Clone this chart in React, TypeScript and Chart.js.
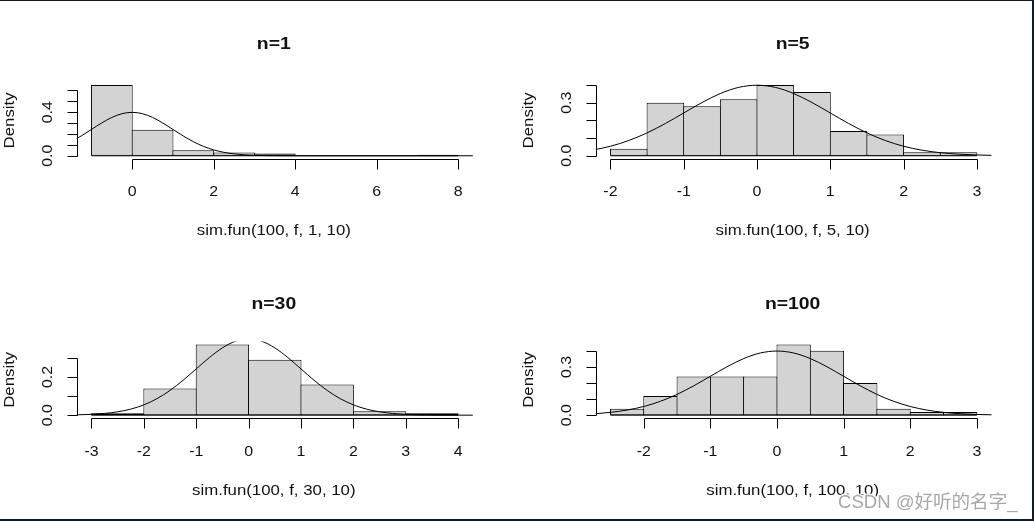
import React, { useEffect, useRef } from 'react';
import { Chart, registerables } from 'chart.js';

Chart.register(...registerables);

const W = 1034;
const H = 521;

// ---------------- data ----------------
const TITLES = ['n=1', 'n=5', 'n=30', 'n=100'];
const XLABELS = [
  'sim.fun(100, f, 1, 10)',
  'sim.fun(100, f, 5, 10)',
  'sim.fun(100, f, 30, 10)',
  'sim.fun(100, f, 100, 10)',
];

const N1_BREAKS = [-1, 0, 1, 2, 3, 4, 5, 6, 7, 8];
const N1_DENSITY = [0.65, 0.24, 0.05, 0.03, 0.02, 0, 0, 0, 0.01];
const N1_XTICKS = [0, 2, 4, 6, 8];
const N1_YTICKS = [0, 0.1, 0.2, 0.3, 0.4, 0.5, 0.6];
const N1_YLABELS = ['0.0', '', '', '', '0.4', '', ''];

const N5_BREAKS = [-2, -1.5, -1, -0.5, 0, 0.5, 1, 1.5, 2, 2.5, 3];
const N5_DENSITY = [0.04, 0.3, 0.28, 0.32, 0.4, 0.36, 0.14, 0.12, 0.02, 0.02];
const N5_XTICKS = [-2, -1, 0, 1, 2, 3];
const N5_YTICKS = [0, 0.1, 0.2, 0.3, 0.4];
const N5_YLABELS = ['0.0', '', '', '0.3', ''];

const N30_BREAKS = [-3, -2, -1, 0, 1, 2, 3, 4];
const N30_DENSITY = [0.01, 0.14, 0.37, 0.29, 0.16, 0.02, 0.01];
const N30_XTICKS = [-3, -2, -1, 0, 1, 2, 3, 4];
const N30_YTICKS = [0, 0.1, 0.2, 0.3];
const N30_YLABELS = ['0.0', '', '0.2', ''];

const N100_BREAKS = [-2.5, -2, -1.5, -1, -0.5, 0, 0.5, 1, 1.5, 2, 2.5, 3];
const N100_DENSITY = [0.04, 0.12, 0.24, 0.24, 0.24, 0.44, 0.4, 0.2, 0.04, 0.02, 0.02];
const N100_XTICKS = [-2, -1, 0, 1, 2, 3];
const N100_YTICKS = [0, 0.1, 0.2, 0.3, 0.4];
const N100_YLABELS = ['0.0', '', '', '0.3', ''];

// standard normal density curve
const CURVE_X = [-3.5, -3.25, -3, -2.75, -2.5, -2.25, -2, -1.75, -1.5, -1.25, -1, -0.75, -0.5, -0.25, 0,
  0.25, 0.5, 0.75, 1, 1.25, 1.5, 1.75, 2, 2.25, 2.5, 2.75, 3, 3.25, 3.5, 3.75, 4, 4.5, 5, 6, 7, 8, 8.5];
const CURVE_Y = [0.0009, 0.002, 0.0044, 0.0091, 0.0175, 0.0317, 0.054, 0.0863, 0.1295, 0.1826, 0.242, 0.3011, 0.3521, 0.3867, 0.3989,
  0.3867, 0.3521, 0.3011, 0.242, 0.1826, 0.1295, 0.0863, 0.054, 0.0317, 0.0175, 0.0091, 0.0044, 0.002, 0.0009, 0.0004, 0.0001, 0, 0, 0, 0, 0, 0];

const WATERMARK = 'CSDN @好听的名字_';

// ---------------- layout ----------------
const COLS = [
  { left: 76.8, right: 472.8 },
  { left: 595.8, right: 991.5 },
];
const ROWS = [
  { top: 82.2, bottom: 158.6 },
  { top: 341.6, bottom: 418.0 },
];

const FONT_FAMILY = '"Liberation Sans", Arial, "Noto Sans CJK SC", sans-serif';
const TICK_FONT = `14.5px ${FONT_FAMILY}`;
const LABEL_FONT = `14px ${FONT_FAMILY}`;
const TITLE_FONT = `bold 17px ${FONT_FAMILY}`;
const TEXT_COLOR = '#111';

const PANELS = [
  { title: TITLES[0], xlab: XLABELS[0], breaks: N1_BREAKS, density: N1_DENSITY, xTicks: N1_XTICKS, yTicks: N1_YTICKS, yLabels: N1_YLABELS, col: 0, row: 0 },
  { title: TITLES[1], xlab: XLABELS[1], breaks: N5_BREAKS, density: N5_DENSITY, xTicks: N5_XTICKS, yTicks: N5_YTICKS, yLabels: N5_YLABELS, col: 1, row: 0 },
  { title: TITLES[2], xlab: XLABELS[2], breaks: N30_BREAKS, density: N30_DENSITY, xTicks: N30_XTICKS, yTicks: N30_YTICKS, yLabels: N30_YLABELS, col: 0, row: 1 },
  { title: TITLES[3], xlab: XLABELS[3], breaks: N100_BREAKS, density: N100_DENSITY, xTicks: N100_XTICKS, yTicks: N100_YTICKS, yLabels: N100_YLABELS, col: 1, row: 1 },
];

type Panel = typeof PANELS[number];

function drawText(
  ctx: CanvasRenderingContext2D,
  text: string,
  x: number,
  y: number,
  font: string,
  sx: number,
  rot = 0,
  align: CanvasTextAlign = 'center',
  color = TEXT_COLOR
) {
  ctx.save();
  ctx.translate(x, y);
  if (rot) ctx.rotate(rot);
  ctx.scale(sx, 1);
  ctx.font = font;
  ctx.textAlign = align;
  ctx.textBaseline = 'alphabetic';
  ctx.fillStyle = color;
  ctx.fillText(text, 0, 0);
  ctx.restore();
}

function makeAxesPlugin(p: Panel, withWatermark: boolean) {
  return {
    id: 'rAxes' + p.title,
    afterDraw(chart: any) {
      const { ctx, chartArea: a, scales } = chart;
      const x = scales.x;
      const y = scales.y;
      ctx.save();
      ctx.strokeStyle = '#000';
      ctx.lineWidth = 1;

      // x axis
      const xb = Math.round(a.bottom) + 0.5;
      const xs = p.xTicks.map((v) => Math.round(x.getPixelForValue(v)) + 0.5);
      ctx.beginPath();
      ctx.moveTo(xs[0], xb);
      ctx.lineTo(xs[xs.length - 1], xb);
      xs.forEach((px) => {
        ctx.moveTo(px, xb);
        ctx.lineTo(px, xb + 10);
      });
      // y axis
      const yl = Math.round(a.left) + 0.5;
      const ys = p.yTicks.map((v) => Math.round(y.getPixelForValue(v)) + 0.5);
      ctx.moveTo(yl, ys[0]);
      ctx.lineTo(yl, ys[ys.length - 1]);
      ys.forEach((py) => {
        ctx.moveTo(yl, py);
        ctx.lineTo(yl - 10, py);
      });
      ctx.stroke();
      ctx.restore();

      // x tick labels
      p.xTicks.forEach((v) => {
        drawText(ctx, String(v), x.getPixelForValue(v), a.bottom + 37.5, TICK_FONT, 1.1);
      });
      // y tick labels (rotated)
      p.yTicks.forEach((v, i) => {
        const lab = p.yLabels[i];
        if (lab) drawText(ctx, lab, a.left - 25, y.getPixelForValue(v), TICK_FONT, 1.1, -Math.PI / 2);
      });
      const cx = (a.left + a.right) / 2 - 1;
      // title
      drawText(ctx, p.title, cx, a.top - 33, TITLE_FONT, 1.14);
      // x label
      drawText(ctx, p.xlab, cx, a.bottom + 76.5, LABEL_FONT, 1.2);
      // y label
      drawText(ctx, 'Density', a.left - 63, (a.top + a.bottom) / 2, LABEL_FONT, 1.2, -Math.PI / 2);

      if (withWatermark) {
        ctx.save();
        ctx.font = `18px "Liberation Sans", Arial, "Noto Sans CJK SC", sans-serif`;
        ctx.textAlign = 'left';
        ctx.textBaseline = 'alphabetic';
        ctx.lineWidth = 3;
        ctx.strokeStyle = 'rgba(255,255,255,0.9)';
        ctx.lineJoin = 'round';
        ctx.save();
        ctx.translate(838, 508);
        ctx.scale(1.03, 1);
        ctx.strokeText(WATERMARK, 0, 0);
        ctx.fillStyle = '#a8a8a8';
        ctx.fillText(WATERMARK, 0, 0);
        ctx.restore();
        ctx.restore();
      }
    },
  };
}

function extendRange(lo: number, hi: number): [number, number] {
  const d = (hi - lo) * 0.04;
  return [lo - d, hi + d];
}

function makeConfig(p: Panel, withWatermark: boolean): any {
  const col = COLS[p.col];
  const row = ROWS[p.row];
  const xr = extendRange(p.breaks[0], p.breaks[p.breaks.length - 1]);
  const yr = extendRange(0, Math.max(...p.density));
  const bars = p.density.map((d, i) => ({ x: (p.breaks[i] + p.breaks[i + 1]) / 2, y: d }));
  const binPx = ((col.right - col.left) / (xr[1] - xr[0])) * (p.breaks[1] - p.breaks[0]);
  const baseline = [
    { x: p.breaks[0], y: 0 },
    { x: p.breaks[p.breaks.length - 1], y: 0 },
  ];
  const curve = CURVE_X.map((cx, i) => ({ x: cx, y: CURVE_Y[i] }));

  return {
    type: 'bar',
    data: {
      datasets: [
        {
          type: 'bar',
          data: bars,
          backgroundColor: '#d3d3d3',
          borderColor: '#000',
          borderWidth: 1,
          borderSkipped: false,
          barPercentage: 1 + 1 / binPx,
          categoryPercentage: 1,
          order: 2,
        },
        {
          type: 'line',
          data: baseline,
          borderColor: '#000',
          borderWidth: 1,
          pointRadius: 0,
          fill: false,
          order: 1,
        },
        {
          type: 'line',
          data: curve,
          borderColor: '#000',
          borderWidth: 1,
          pointRadius: 0,
          fill: false,
          clip: 0,
          cubicInterpolationMode: 'monotone',
          order: 0,
        },
      ],
    },
    options: {
      responsive: false,
      maintainAspectRatio: false,
      animation: false,
      devicePixelRatio: 1,
      events: [],
      layout: {
        padding: { left: col.left, right: W - col.right, top: row.top, bottom: H - row.bottom },
      },
      plugins: {
        legend: { display: false },
        tooltip: { enabled: false },
        title: { display: false },
      },
      scales: {
        x: {
          type: 'linear',
          min: xr[0],
          max: xr[1],
          offset: false,
          display: false,
          afterBuildTicks: (s: any) => {
            s.ticks = p.xTicks.map((v) => ({ value: v }));
          },
        },
        y: {
          type: 'linear',
          min: yr[0],
          max: yr[1],
          display: false,
          afterBuildTicks: (s: any) => {
            s.ticks = p.yTicks.map((v) => ({ value: v }));
          },
        },
      },
    },
    plugins: [makeAxesPlugin(p, withWatermark)],
  };
}

export default function App() {
  const r0 = useRef<HTMLCanvasElement>(null);
  const r1 = useRef<HTMLCanvasElement>(null);
  const r2 = useRef<HTMLCanvasElement>(null);
  const r3 = useRef<HTMLCanvasElement>(null);
  const refs = [r0, r1, r2, r3];

  useEffect(() => {
    const charts = PANELS.map((p, i) => new Chart(refs[i].current as HTMLCanvasElement, makeConfig(p, i === PANELS.length - 1)));
    return () => charts.forEach((c) => c.destroy());
  }, []);

  return (
    <div style={{ position: 'fixed', left: 0, top: 0, width: W, height: H, background: '#fff', overflow: 'hidden' }}>
      {PANELS.map((p, i) => (
        <canvas
          key={p.title}
          ref={refs[i]}
          width={W}
          height={H}
          style={{ position: 'absolute', left: 0, top: 0, width: W, height: H }}
        />
      ))}
      <div
        style={{
          position: 'absolute',
          left: 0,
          top: 0,
          width: W,
          height: H,
          boxSizing: 'border-box',
          borderTop: '1px solid #0d1b2a',
          borderRight: '2px solid #0d1b2a',
          borderBottom: '2px solid #0d1b2a',
          pointerEvents: 'none',
        }}
      />
    </div>
  );
}
